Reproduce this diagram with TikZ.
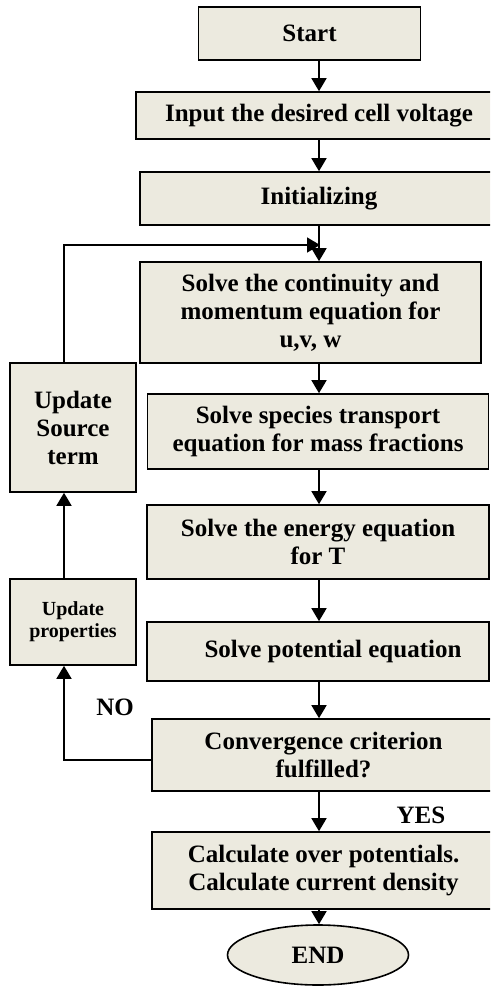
\documentclass[tikz,border=0pt]{standalone}
\usepackage{fontspec}
\setmainfont{Liberation Serif}
\usepackage{tikz}
\usetikzlibrary{positioning, arrows.meta, shapes.geometric}

\definecolor{boxfill}{RGB}{236,234,223}

\begin{document}
\begin{tikzpicture}[
  x=1pt, y=-1pt,
  font=\bfseries\fontsize{25}{28}\selectfont,
  box/.style={draw, rectangle, line width=1.6pt, fill=boxfill,
    align=center, inner sep=2pt},
  smallbox/.style={box, font=\bfseries\fontsize{20}{22}\selectfont},
  term/.style={box, ellipse},
  arr/.style={-{Triangle[length=13pt, width=15pt]}, line width=1.6pt},
  lbl/.style={inner sep=0pt},
]
  \useasboundingbox (0,0) rectangle (490,987);
  \clip (0,0) rectangle (490,987);

  % Main column
  \node[box, minimum width=222pt, minimum height=53pt] (start) at (309.5,33.5) {Start};
  \node[box, minimum width=366pt, minimum height=47pt] (input) at (319,115.5)
        {Input the desired cell voltage};
  \node[box, minimum width=358pt, minimum height=53pt] (init) at (319,198.5) {Initializing};
  \node[box, minimum width=341pt, minimum height=101pt] (cont) at (310.5,312.5)
        {Solve the continuity and\\ momentum equation for\\ u,v, w};
  \node[box, minimum width=341pt, minimum height=75pt] (species) at (318,431.5)
        {Solve species transport\\ equation for mass fractions};
  \node[box, minimum width=342pt, minimum height=74pt] (energy) at (318,542)
        {Solve the energy equation\\ for T};
  \node[box, minimum width=342pt, minimum height=59pt] (pot) at (318,651.5)
        {\hspace*{30pt}Solve potential equation};
  \node[box, minimum width=343pt, minimum height=72pt] (conv) at (323.5,755)
        {Convergence criterion\\ fulfilled?};
  \node[box, minimum width=343pt, minimum height=77pt] (calc) at (323.5,870.5)
        {Calculate over potentials.\\ Calculate current density};
  \node[term, minimum width=181pt, minimum height=60pt] (endn) at (318,955) {END};

  % Update boxes on the left
  \node[box, minimum width=126pt, minimum height=129pt] (usrc) at (73,427.5)
        {Update\\ Source\\ term};
  \node[smallbox, minimum width=126pt, minimum height=86pt] (uprop) at (73,622)
        {Update\\ properties};

  % Decision labels
  \node[lbl] (no) at (115,707) {NO};
  \node[lbl] (yes) at (421,815) {YES};

  % Forward flow
  \draw[arr] (input.north |- start.south) -- (input.north);
  \draw[arr] (input.south) -- (init.north);
  \draw[arr] (init.south) -- (init.south |- cont.north);
  \draw[arr] (cont.south -| init.south) -- (species.north -| init.south);
  \draw[arr] (species.south -| init.south) -- (energy.north -| init.south);
  \draw[arr] (energy.south -| init.south) -- (pot.north -| init.south);
  \draw[arr] (pot.south -| init.south) -- (conv.north -| init.south);
  \draw[arr] (conv.south -| init.south) -- (calc.north -| init.south);
  \draw[arr] (calc.south -| init.south) -- (endn.north -| init.south);

  % Feedback loop
  \coordinate (nobend) at (64,760);
  \coordinate (topbend) at (64,245);
  \coordinate (merge) at (320,245);
  \draw[arr] (conv.west |- nobend) -- (nobend) -- (nobend |- uprop.south);
  \draw[arr] (uprop.north -| nobend) -- (nobend |- usrc.south);
  \draw[arr] (usrc.north -| nobend) -- (topbend) -- (merge);
\end{tikzpicture}
\end{document}
